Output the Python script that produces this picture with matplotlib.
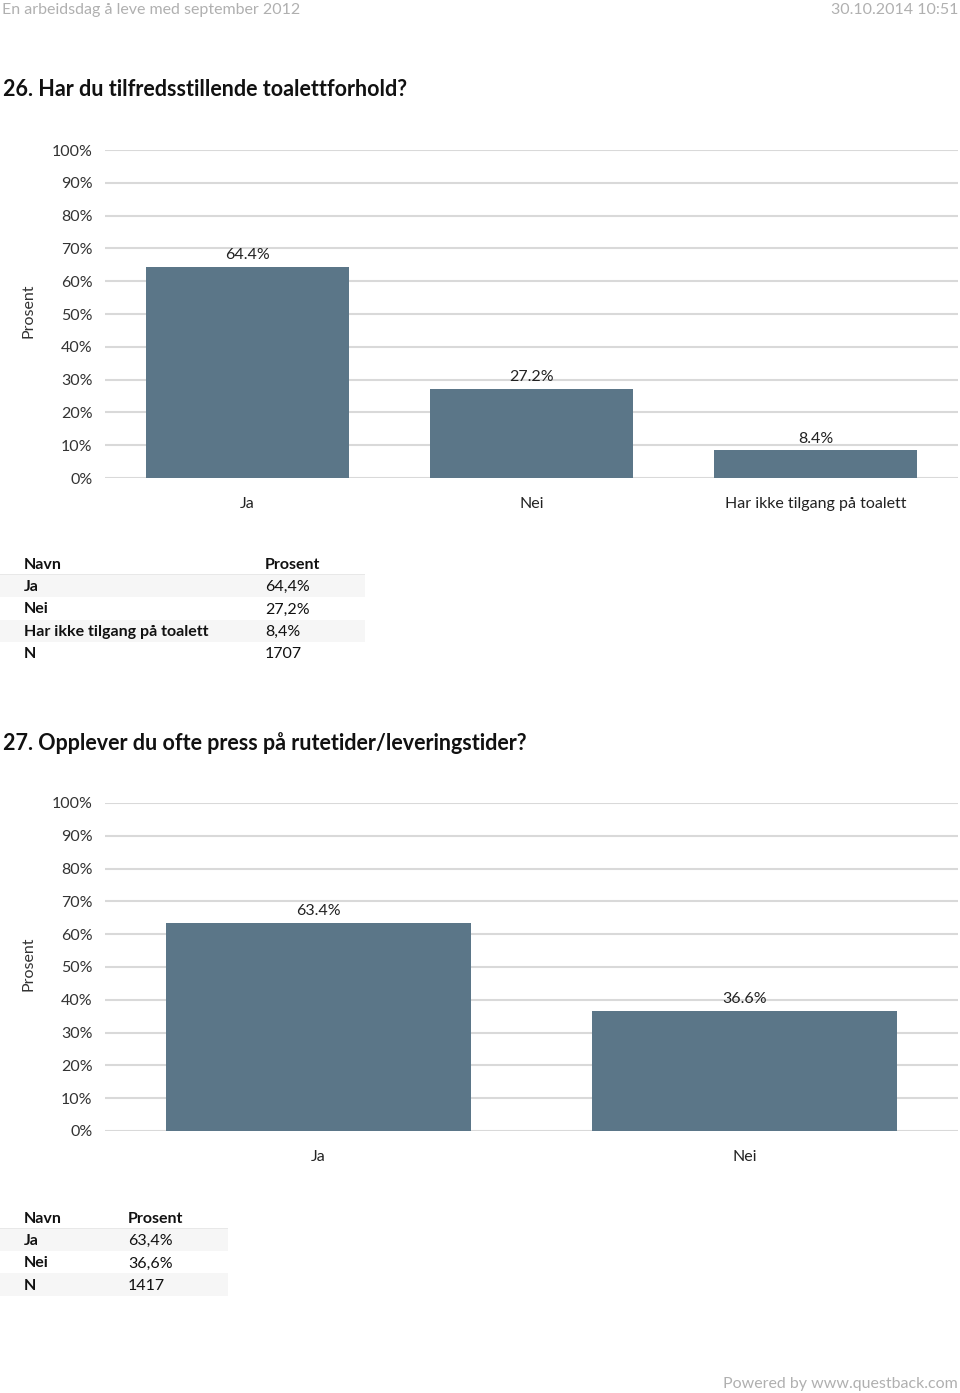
import matplotlib
matplotlib.use("Agg")
import matplotlib.pyplot as plt
from matplotlib.patches import Rectangle

plt.rcParams['font.family'] = ['Lato', 'DejaVu Sans']

W, H = 960, 1393
DPI = 100

q1_title = "26. Har du tilfredsstillende toalettforhold?"
q1_cats = ["Ja", "Nei", "Har ikke tilgang på toalett"]
q1_vals = [64.4, 27.2, 8.4]
q1_n = 1707

q2_title = "27. Opplever du ofte press på rutetider/leveringstider?"
q2_cats = ["Ja", "Nei"]
q2_vals = [63.4, 36.6]
q2_n = 1417

yticks = [0, 10, 20, 30, 40, 50, 60, 70, 80, 90, 100]
bar_color = "#5b7688"
grid_color = "#d9d9d9"

fig = plt.figure(figsize=(W / DPI, H / DPI), dpi=DPI)


def px_text(x, y, s, **kw):
    fig.text(x / W, 1 - y / H, s, **kw)


def add_ax(x0, y0, x1, y1):
    return fig.add_axes([x0 / W, 1 - y1 / H, (x1 - x0) / W, (y1 - y0) / H])


# header / footer
px_text(2, 10, "En arbeidsdag å leve med september 2012", fontsize=11.5, color="#b0b0b0", va="center", ha="left")
px_text(958, 10, "30.10.2014 10:51", fontsize=11.5, color="#b0b0b0", va="center", ha="right")
px_text(958, 1384, "Powered by www.questback.com", fontsize=11.5, color="#b0b0b0", va="center", ha="right")


def bar_chart(top, bottom, cats, vals, title, title_y):
    px_text(3, title_y, title, fontsize=15.5, fontweight="bold", va="center", ha="left", color="#111111")
    ax = add_ax(105, top, 958, bottom)
    x = list(range(len(cats)))
    ax.bar(x, vals, width=0.715, color=bar_color, zorder=3)
    ax.set_xlim(-0.5, len(cats) - 0.5)
    ax.set_ylim(0, 100)
    ax.set_yticks(yticks)
    ax.set_yticklabels([f"{t}%" for t in yticks], fontsize=11.5, color="#333333")
    ax.tick_params(axis="y", length=0, pad=9)
    ax.set_xticks(x)
    ax.set_xticklabels(cats, fontsize=11.5, color="#222222")
    ax.tick_params(axis="x", length=0, pad=14)
    ax.yaxis.grid(True, color=grid_color, linewidth=1.5, zorder=0)
    for s in ax.spines.values():
        s.set_visible(False)
    for xi, v in zip(x, vals):
        ax.text(xi, v + 1.4, f"{v:.1f}%", ha="center", va="bottom", fontsize=11.5, color="#222222", zorder=4)
    px_text(28, (top + bottom) / 2 - 3, "Prosent", rotation=90, fontsize=11.5, color="#333333", va="center", ha="center")
    return ax


def table(y0, cats, vals, n, col2_x, width):
    rows = [("Navn", "Prosent")] + [(c, f"{v:.1f}%".replace(".", ",")) for c, v in zip(cats, vals)] + [("N", str(n))]
    row_h = 22.2
    for i, (a, b) in enumerate(rows):
        yc = y0 + i * row_h
        if i % 2 == 1:
            fig.patches.append(Rectangle((0, 1 - (yc + row_h / 2) / H), width / W, row_h / H,
                                         transform=fig.transFigure, facecolor="#f6f6f6", edgecolor="none", zorder=0))
        if i == 0:
            fig.patches.append(Rectangle((0, 1 - (yc + row_h / 2) / H), width / W, 1.2 / H,
                                         transform=fig.transFigure, facecolor="#e8e8e8", edgecolor="none", zorder=0))
        px_text(24, yc + 1, a, fontsize=11.5, fontweight="bold", va="center", ha="left", color="#111111")
        px_text(col2_x, yc + 1, b, fontsize=11.5, fontweight="bold" if i == 0 else "normal", va="center", ha="left", color="#111111")


bar_chart(150, 478, q1_cats, q1_vals, q1_title, 90)
table(564, q1_cats, q1_vals, q1_n, 265, 365)

bar_chart(803, 1131, q2_cats, q2_vals, q2_title, 743)
table(1218, q2_cats, q2_vals, q2_n, 128, 228)

fig.savefig("out.png", dpi=DPI)
